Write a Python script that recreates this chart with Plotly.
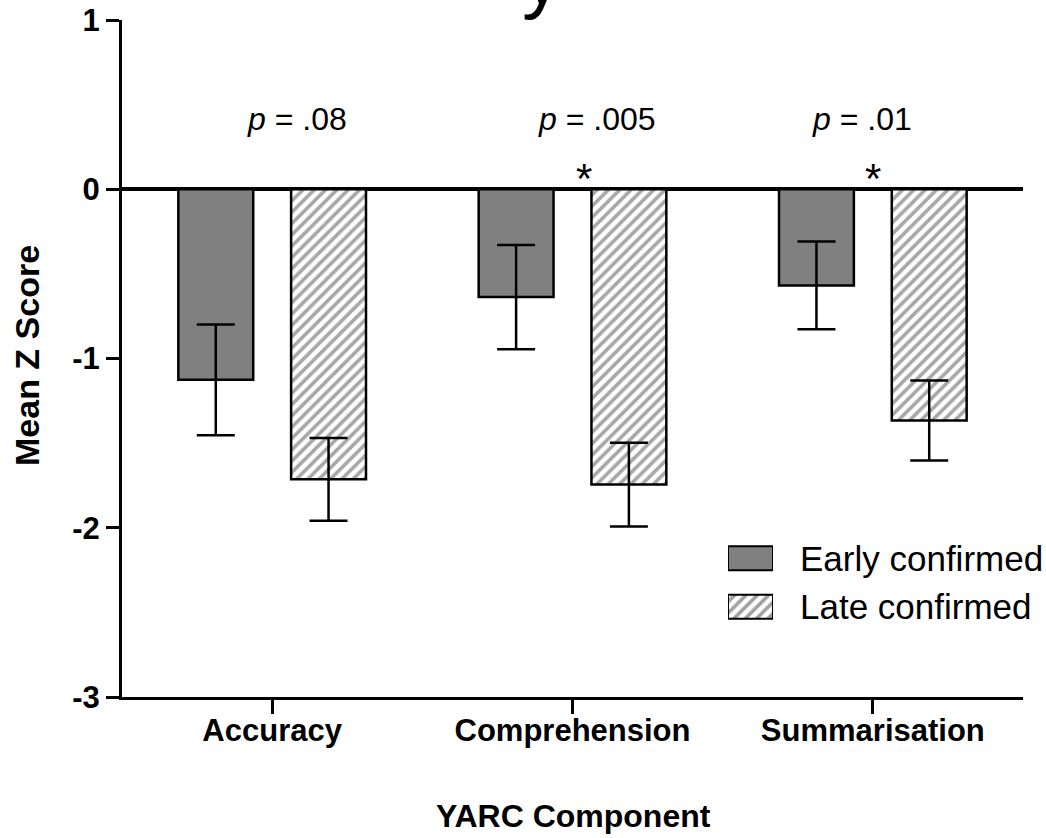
import plotly.graph_objects as go

# ---------------- data ----------------
categories = ["Accuracy", "Comprehension", "Summarisation"]
early_mean = [-1.126, -0.637, -0.568]
early_se = [0.327, 0.308, 0.259]
late_mean = [-1.714, -1.745, -1.366]
late_se = [0.245, 0.247, 0.236]
p_labels = ["<i>p</i> = .08", "<i>p</i> = .005", "<i>p</i> = .01"]
sig_marks = ["", "*", "*"]
legend_labels = ["Early confirmed", "Late confirmed"]
y_tickvals = [1, 0, -1, -2, -3]
y_ticktext = ["1", "0", "-1", "-2", "-3"]

FONT = "Liberation Sans, Arial, sans-serif"
GRAY = "#808080"
HATCH = "#505050"

fig = go.Figure()

fig.add_trace(go.Bar(
    name=legend_labels[0], x=categories, y=early_mean,
    marker=dict(color=GRAY, line=dict(color="black", width=2.5)),
    error_y=dict(type="data", array=early_se, symmetric=True,
                 color="black", thickness=2.5, width=19),
    showlegend=False,
))
fig.add_trace(go.Bar(
    name=legend_labels[1], x=categories, y=late_mean,
    marker=dict(color="white", line=dict(color="black", width=2.5),
                pattern=dict(shape="/", fgcolor=HATCH, bgcolor="white",
                             size=8, solidity=0.45)),
    error_y=dict(type="data", array=late_se, symmetric=True,
                 color="black", thickness=2.5, width=19),
    showlegend=False,
))

# legend swatches drawn on a hidden helper axis
fig.add_trace(go.Bar(
    x=[1, 1], y=[0, 1], orientation="h", xaxis="x2", yaxis="y2",
    width=0.49, showlegend=False, hoverinfo="skip",
    marker=dict(color=[GRAY, "white"], line=dict(color="black", width=2),
                pattern=dict(shape=["", "/"], fgcolor=HATCH, bgcolor="white",
                             size=8, solidity=0.45)),
))

L, R, T, B = 122, 23, 20, 141
W, H = 1046, 838
pw, ph = W - L - R, H - T - B


def px_x(px):
    return (px - L) / pw


def px_y(py):
    return (H - B - py) / ph


fig.update_layout(
    width=W, height=H,
    margin=dict(l=L, r=R, t=T, b=B),
    paper_bgcolor="white", plot_bgcolor="white",
    barmode="group", bargap=0.249, bargroupgap=0.336,
    font=dict(family=FONT, color="black"),
    xaxis=dict(
        automargin=False,
        showline=True, linecolor="black", linewidth=3,
        ticks="outside", ticklen=14, tickwidth=3, tickcolor="black",
        tickfont=dict(size=31, family=FONT, weight="bold"),
        ticklabelstandoff=-10,
        showgrid=False, zeroline=False,
    ),
    yaxis=dict(
        automargin=False,
        range=[-3, 1], tickvals=y_tickvals, ticktext=y_ticktext,
        showline=True, linecolor="black", linewidth=3,
        ticks="outside", ticklen=13, tickwidth=3, tickcolor="black",
        tickfont=dict(size=31, family=FONT, weight="bold"),
        showgrid=False, zeroline=True, zerolinecolor="black", zerolinewidth=4,
    ),
    xaxis2=dict(domain=[px_x(728), px_x(773)], range=[0, 1], anchor="y2",
                visible=False, fixedrange=True),
    yaxis2=dict(domain=[px_y(631), px_y(534)], range=[1.5, -0.5], anchor="x2",
                visible=False, fixedrange=True),
)

annotations = []
# p-values
p_offsets = [0.082, 0.083, -0.037]
for i, txt in enumerate(p_labels):
    annotations.append(dict(x=i + p_offsets[i], y=0.415, xref="x", yref="y",
                            text=txt, showarrow=False, xanchor="center",
                            yanchor="middle", font=dict(size=32, family=FONT)))
# significance stars
star_offsets = [0.0, 0.037, 0.0]
for i, s in enumerate(sig_marks):
    if s:
        annotations.append(dict(x=i + star_offsets[i], y=0.063, xref="x", yref="y",
                                text=s, showarrow=False, xanchor="center",
                                yanchor="middle", font=dict(size=42, family=FONT)))
# legend text
for i, lab in enumerate(legend_labels):
    annotations.append(dict(x=px_x(798), y=i, xref="paper", yref="y2",
                            text=lab, showarrow=False, xanchor="left",
                            yanchor="middle", font=dict(size=35, family=FONT)))
# axis titles
annotations.append(dict(x=px_x(573), y=px_y(816), xref="paper", yref="paper",
                        text="<b>YARC Component</b>", showarrow=False,
                        xanchor="center", yanchor="middle",
                        font=dict(size=32, family=FONT)))
annotations.append(dict(x=px_x(27), y=px_y(356), xref="paper", yref="paper",
                        text="<b>Mean Z Score</b>", showarrow=False, textangle=-90,
                        xanchor="center", yanchor="middle",
                        font=dict(size=34, family=FONT)))
# clipped title (only descender visible)
annotations.append(dict(x=px_x(542), y=px_y(22), xref="paper", yref="paper",
                        text="y", showarrow=False, xanchor="center", yanchor="bottom",
                        font=dict(size=80, family=FONT)))

fig.update_layout(annotations=annotations)

fig.write_html("out.html")
